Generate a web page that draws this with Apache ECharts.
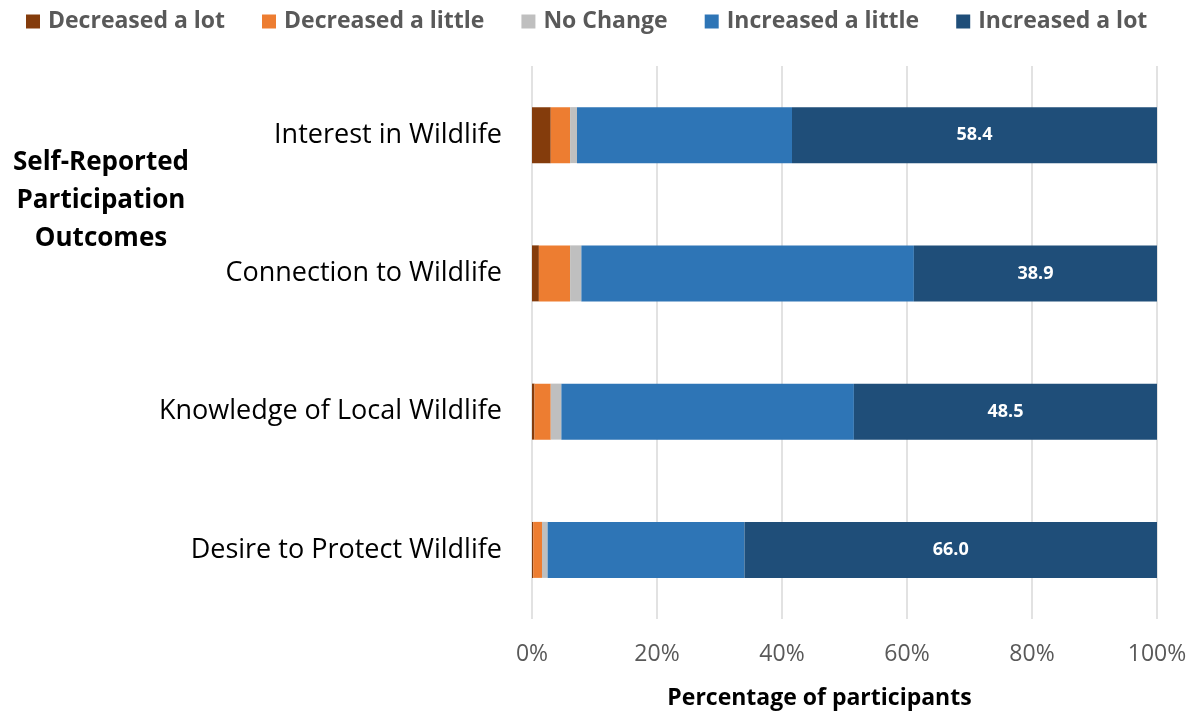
<!DOCTYPE html>
<html>
<head>
<meta charset="utf-8">
<title>Self-Reported Participation Outcomes</title>
<script src="https://cdn.jsdelivr.net/npm/echarts@6/dist/echarts.min.js"></script>
<style>
  html, body { margin: 0; padding: 0; background: #ffffff; }
  #chart { width: 1196px; height: 715px; }
</style>
</head>
<body>
<div id="chart"></div>
<script>
// Outcome categories, top to bottom
const categories = [
  'Interest in Wildlife',
  'Connection to Wildlife',
  'Knowledge of Local Wildlife',
  'Desire to Protect Wildlife'
];

// Percentage of participants in each response group
const decreasedALot    = [3.0, 1.1, 0.4, 0.2];
const decreasedALittle = [3.1, 5.0, 2.6, 1.4];
const noChange         = [1.1, 1.8, 1.7, 0.9];
const increasedALittle = [34.4, 53.2, 46.8, 31.5];
const increasedALot    = [58.4, 38.9, 48.5, 66.0];

const xTicks = [0, 20, 40, 60, 80, 100];

const FONT = '"Open Sans", "Noto Sans", sans-serif';

const seriesDefs = [
  { name: 'Decreased a lot',    data: decreasedALot,    color: '#843C0C' },
  { name: 'Decreased a little', data: decreasedALittle, color: '#ED7D31' },
  { name: 'No Change',          data: noChange,         color: '#BFBFBF' },
  { name: 'Increased a little', data: increasedALittle, color: '#2E75B6' },
  { name: 'Increased a lot',    data: increasedALot,    color: '#1F4E79', labelled: true }
];

const chart = echarts.init(document.getElementById('chart'), null, { renderer: 'canvas' });

chart.setOption({
  animation: false,
  textStyle: { fontFamily: FONT },
  legend: {
    top: 5,
    left: 21,
    itemWidth: 14,
    itemHeight: 14,
    itemGap: 37,
    icon: 'rect',
    textStyle: { fontFamily: FONT, fontSize: 23, fontWeight: 'bold', color: '#595959', padding: [0, 0, 0, 3] },
    data: seriesDefs.map(s => s.name)
  },
  grid: { left: 532, width: 625, top: 66, height: 558, containLabel: false },
  xAxis: {
    type: 'value',
    min: xTicks[0],
    max: xTicks[xTicks.length - 1],
    interval: 20,
    axisLine: { show: false },
    axisTick: { show: false },
    splitLine: { show: true, lineStyle: { color: '#D9D9D9', width: 1.5 } },
    axisLabel: { formatter: '{value}%', fontFamily: FONT, fontSize: 23, color: '#595959', margin: 24 },
    name: 'Percentage of participants',
    nameLocation: 'middle',
    nameGap: 68,
    nameTextStyle: { fontFamily: FONT, fontSize: 23, fontWeight: 'bold', color: '#000000', padding: [0, 50, 0, 0] }
  },
  yAxis: {
    type: 'category',
    data: categories,
    inverse: true,
    axisLine: { show: false },
    axisTick: { show: false },
    axisLabel: { fontFamily: FONT, fontSize: 27, color: '#000000', margin: 30 }
  },
  graphic: [{
    type: 'text',
    x: 101,
    y: 144,
    style: {
      text: 'Self-Reported\nParticipation\nOutcomes',
      fontFamily: FONT,
      fontSize: 26,
      fontWeight: 'bold',
      fill: '#000000',
      align: 'center',
      verticalAlign: 'top',
      lineHeight: 38
    }
  }],
  series: seriesDefs.map(s => ({
    name: s.name,
    type: 'bar',
    stack: 'total',
    barWidth: 56,
    data: s.data,
    itemStyle: { color: s.color },
    label: s.labelled ? {
      show: true,
      position: 'inside',
      formatter: p => p.value.toFixed(1),
      fontFamily: FONT,
      fontSize: 18,
      fontWeight: 'bold',
      color: '#FFFFFF'
    } : { show: false }
  }))
});
</script>
</body>
</html>
